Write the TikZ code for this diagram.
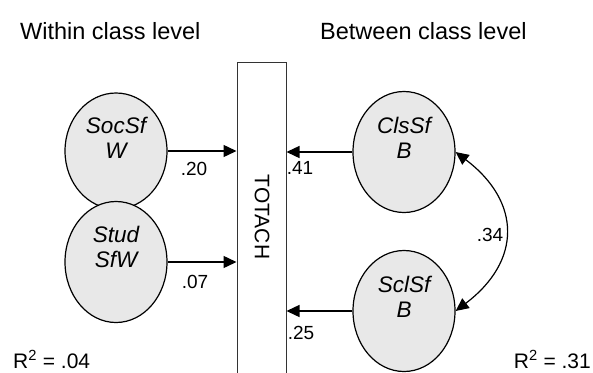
\documentclass[tikz,border=0pt]{standalone}
\usepackage{fontspec}
\setmainfont{Liberation Sans}
\usetikzlibrary{shapes.geometric,arrows.meta}

\begin{document}
\begin{tikzpicture}[x=1pt,y=-1pt,
	latent/.style={ellipse,draw,line width=1.2pt,fill=gray!18,minimum width=102pt,minimum height=121pt,inner sep=0pt},
	vname/.style={align=center,font=\fontsize{22.5}{25}\selectfont\itshape},
	coef/.style={font=\fontsize{19}{22}\selectfont},
	heading/.style={anchor=base west,inner sep=0pt,font=\fontsize{23.5}{27}\selectfont},
	rsq/.style={inner sep=0pt,font=\fontsize{21}{24}\selectfont},
	effect/.style={line width=1.4pt,-{Triangle[length=13pt,width=12pt]}}]
	\useasboundingbox (0,0) rectangle (593,372);

		\node (within) [heading] at (20,39) {Within class level};
		\node (between) [heading] at (320,39) {Between class level};

		\node (totach) [draw=black!80,line width=1pt,minimum width=49pt,minimum height=340pt,inner sep=0pt,anchor=north] at (261.5,62) {};
		\node (totachname) [rotate=-90,font=\fontsize{21}{24}\selectfont] at (262,217) {TOTACH};

		% within class level
		\node (socsf) [latent,minimum height=116pt] at (116,151) {};
		\node (socsfname) [vname] at ([yshift=13pt]socsf.center) {SocSf\\W};
		\node (stud) [latent] at (116,262) {};
		\node (studname) [vname] at ([yshift=15pt]stud.center) {Stud\\SfW};

		% between class level
		\node (clssf) [latent] at (404,152) {};
		\node (clssfname) [vname] at ([yshift=14pt]clssf.center) {ClsSf\\B};
		\node (sclsf) [latent] at (404,311) {};
		\node (sclsfname) [vname] at ([yshift=14pt]sclsf.center) {SclSf\\B};

		\draw[effect] (socsf) -- (socsf -| totach.west);
		\draw[effect] (stud) -- (stud -| totach.west);
		\draw[effect] (clssf) -- (clssf -| totach.east);
		\draw[effect] (sclsf) -- (sclsf -| totach.east);
		\draw[line width=1.2pt,{Triangle[length=13pt,width=12pt]}-{Triangle[length=13pt,width=12pt]}]
			(clssf.east) .. controls +(66,50) and +(66,-50) .. (sclsf.east);

		\node (c20) [coef] at (194,169) {.20};
		\node (c07) [coef] at (195,282) {.07};
		\node (c41) [coef] at (300,168) {.41};
		\node (c25) [coef] at (301,333) {.25};
		\node (c34) [coef] at (490,235) {.34};

		\node (r2w) [rsq,anchor=base west] at (13,368) {R\textsuperscript{2} = .04};
		\node (r2b) [rsq,anchor=base east] at (591,368) {R\textsuperscript{2} = .31};
\end{tikzpicture}
\end{document}
